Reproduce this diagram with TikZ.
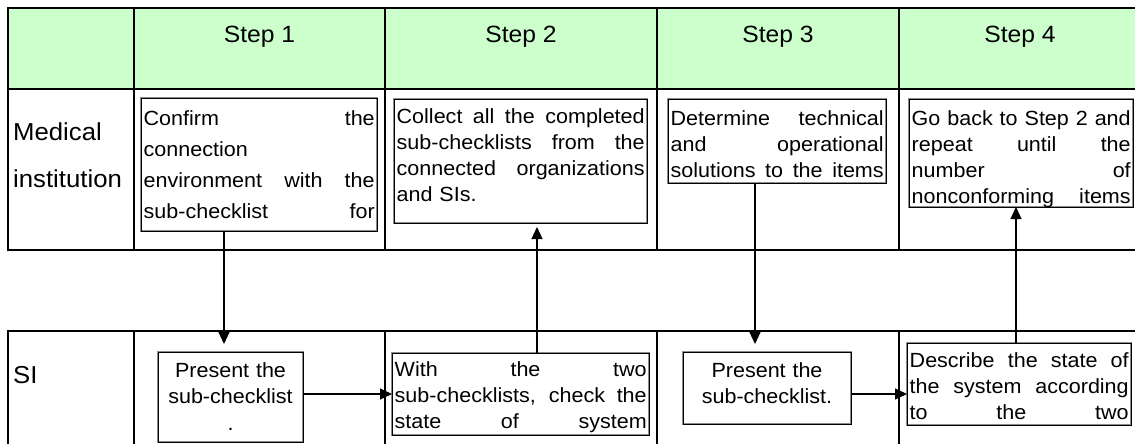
\documentclass[tikz,border=0pt]{standalone}
\usepackage{fontspec}
\setmainfont{Liberation Sans}[FakeStretch=1.05]
\usetikzlibrary{arrows.meta}
\definecolor{headgreen}{RGB}{204,255,204}
% one justified line, spread to the width of the current text block (\tw);
% interword glue is made stretchable again inside flush-left nodes
\newcommand\jl[1]{{\spaceskip=0pt\xspaceskip=0pt\makebox[\tw][s]{#1}}}

\begin{document}
\begin{tikzpicture}[x=1pt,y=-1pt,
  grid/.style={line width=1.6pt, draw=black},
  head/.style={font=\fontsize{23.5}{28}\selectfont, inner sep=0, anchor=base},
  lbl/.style={font=\fontsize{24.5}{47}\selectfont, inner sep=0, anchor=base west, align=left, text width=120pt},
  stepbox/.style={draw=black, line width=0.9pt, inner sep=0, outer sep=0, anchor=north west,
    preaction={draw=black!45, line width=2.4pt}},
  txt/.style={font=\fontsize{20.5}{26}\selectfont, inner sep=0, anchor=base west, align=left,
    text width=#1, execute at begin node={\def\tw{#1}}},
  ctxt/.style={font=\fontsize{20.5}{26.5}\selectfont, inner sep=0, anchor=base, align=center, text width=#1},
  conn/.style={line width=1.1pt, -{Triangle[length=12pt,width=11pt]}}
]
\useasboundingbox (0,0) rectangle (1135,444);
\clip (0,0) rectangle (1135,444);

% header row and the medical-institution row
\fill[headgreen] (8,8) rectangle (1141,89);
\draw[grid] (8,8) rectangle (1141,250);
\draw[grid] (8,89) -- (1141,89);
\foreach \cx in {134,385,657,899} \draw[grid] (\cx,8) -- (\cx,250);

% SI row
\draw[grid] (8,460) -- (8,331) -- (1141,331) -- (1141,460);
\foreach \cx in {134,385,657,899} \draw[grid] (\cx,331) -- (\cx,460);

% column and row headings
\node[head] (h1) at (259.5,43) {Step 1};
\node[head] (h2) at (521,43) {Step 2};
\node[head] (h3) at (778,43) {Step 3};
\node[head] (h4) at (1020,43) {Step 4};
\node[lbl] (l1) at (13,140) {Medical\\institution};
\node[lbl] (l2) at (13,383) {SI};

% step boxes
\node[stepbox, minimum width=236pt, minimum height=133pt] (b1) at (141,98) {};
\node[stepbox, minimum width=253pt, minimum height=124pt] (b2) at (394,99) {};
\node[stepbox, minimum width=218pt, minimum height=84pt]  (b3) at (668,99) {};
\node[stepbox, minimum width=224pt, minimum height=108pt] (b4) at (909,99) {};
\node[stepbox, minimum width=145pt, minimum height=90pt]  (b5) at (158,352) {};
\node[stepbox, minimum width=257pt, minimum height=82pt]  (b6) at (392,353) {};
\node[stepbox, minimum width=168pt, minimum height=72pt]  (b7) at (683,352) {};
\node[stepbox, minimum width=224pt, minimum height=82pt]  (b8) at (907,343) {};

% box texts
\node[txt=231pt, font=\fontsize{20.5}{31}\selectfont] (t1) at (143.5,125)
  {\jl{Confirm the}\\connection\\\jl{environment with the}\\\jl{sub-checklist for}};
\node[txt=248pt] (t2) at (396.5,123)
  {\jl{Collect all the completed}\\\jl{sub-checklists from the}\\\jl{connected organizations}\\and SIs.};
\node[txt=213pt] (t3) at (670.5,125)
  {\jl{Determine technical}\\\jl{and operational}\\\jl{solutions to the items}};
\node[txt=219pt] (t4) at (911.5,125)
  {\jl{Go back to Step 2 and}\\\jl{repeat until the}\\\jl{number of}\\\jl{nonconforming items}};
\node[ctxt=142pt] (t5) at (230.5,377) {Present the\\sub-checklist\\.};
\node[txt=252pt] (t6) at (394.5,376)
  {\jl{With the two}\\\jl{sub-checklists, check the}\\\jl{state of system}};
\node[ctxt=164pt] (t7) at (767,377) {Present the\\sub-checklist.};
\node[txt=219pt] (t8) at (909.5,367)
  {\jl{Describe the state of}\\\jl{the system according}\\\jl{to the two}};

% connector positions
\coordinate (xa) at (224,0);
\coordinate (xb) at (537,0);
\coordinate (xc) at (755,0);
\coordinate (xd) at (1016,0);
\coordinate (ya) at (0,394);

% connectors
\draw[conn, shorten >=8pt] (b1.south -| xa) -- (b5.north -| xa);
\draw[conn] (b5.east |- ya) -- (b6.west |- ya);
\draw[conn, shorten >=4pt] (b6.north -| xb) -- (b2.south -| xb);
\draw[conn, shorten >=8pt] (b3.south -| xc) -- (b7.north -| xc);
\draw[conn] (b7.east |- ya) -- (b8.west |- ya);
\draw[conn] (b8.north -| xd) -- (b4.south -| xd);
\end{tikzpicture}
\end{document}
